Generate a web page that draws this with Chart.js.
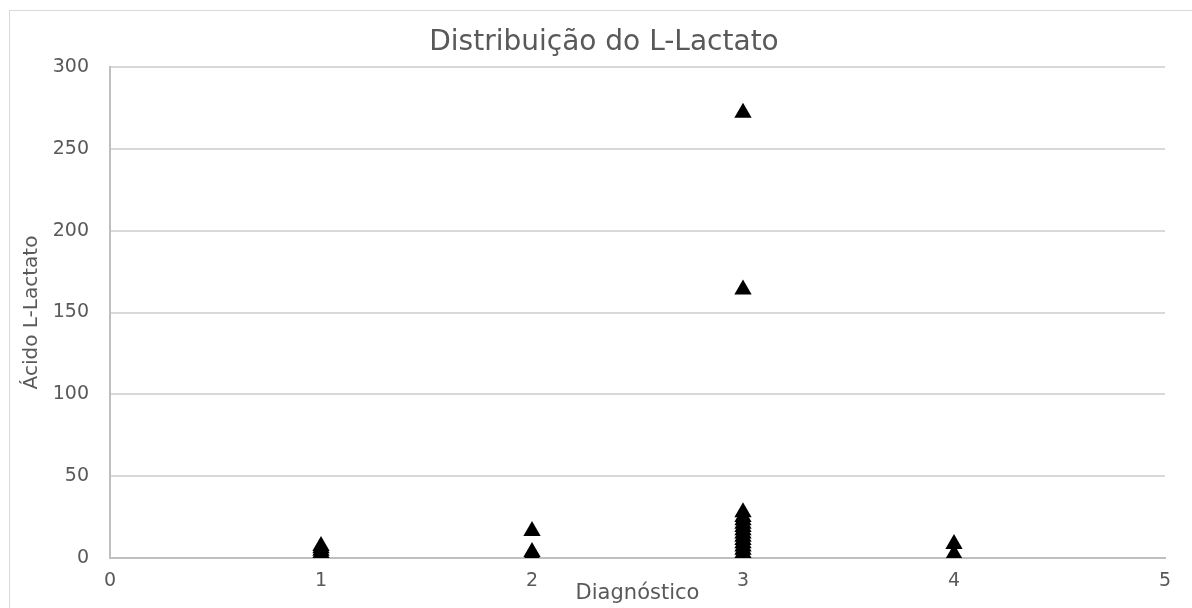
<!DOCTYPE html>
<html>
<head>
<meta charset="utf-8">
<script src="https://cdn.jsdelivr.net/npm/chart.js@4"></script>
<style>
  html, body { margin: 0; padding: 0; background: #fff; }
  #wrap { width: 1192px; height: 608px; position: relative; }
</style>
</head>
<body>
<div id="wrap"><canvas id="lactatoChart"></canvas></div>
<script>
const diagnostico1 = [0.3, 1, 2, 3, 4.5, 6, 7.3];
const diagnostico2 = [0.3, 1, 2, 3.7, 16.5];
const diagnostico3 = [0.3, 1, 2, 3, 5, 7, 9, 11, 13, 15, 17, 19, 21, 23, 25, 28, 164, 272];
const diagnostico4 = [2.5, 8.5];
const grupos = [1, 2, 3, 4];
const yTicks = [0, 50, 100, 150, 200, 250, 300];
const xTicks = [0, 1, 2, 3, 4, 5];

const todos = [diagnostico1, diagnostico2, diagnostico3, diagnostico4];
const puntos = [];
todos.forEach((serie, i) => {
  serie.forEach((v) => puntos.push({ x: grupos[i], y: v }));
});

const TEXTO = '#595959';
const FONT = "'DejaVu Sans', sans-serif";

// outer frame like the excel chart area
const marco = {
  id: 'marco',
  beforeDraw(chart) {
    const ctx = chart.ctx;
    ctx.save();
    ctx.strokeStyle = '#d9d9d9';
    ctx.lineWidth = 1;
    ctx.strokeRect(9.5, 10.5, 1200, 620);
    ctx.restore();
  },
};

new Chart(document.querySelector('#lactatoChart'), {
  type: 'scatter',
  data: {
    datasets: [
      {
        label: 'L-Lactato',
        data: puntos,
        pointStyle: 'triangle',
        pointRadius: 10,
        pointHoverRadius: 10,
        backgroundColor: '#000',
        borderColor: '#000',
        borderWidth: 0,
      },
    ],
  },
  options: {
    responsive: true,
    maintainAspectRatio: false,
    animation: false,
    layout: { padding: { left: 43, right: 27, top: 26, bottom: 0 } },
    plugins: {
      legend: { display: false },
      tooltip: { enabled: false },
      title: {
        display: true,
        text: 'Distribuição do L-Lactato',
        color: TEXTO,
        font: { family: FONT, size: 28, weight: 'normal' },
        padding: { top: 0, bottom: 7.4 },
      },
    },
    scales: {
      x: {
        type: 'linear',
        min: 0,
        max: 5,
        afterBuildTicks: (s) => { s.ticks = xTicks.map((v) => ({ value: v })); },
        afterFit: (s) => { s.height = 50; },
        grid: { display: false, drawTicks: false },
        border: { display: true, color: '#bfbfbf', width: 2 },
        ticks: { color: TEXTO, font: { family: FONT, size: 19 }, padding: 12 },
        title: {
          display: true,
          text: 'Diagnóstico',
          color: TEXTO,
          font: { family: FONT, size: 21 },
          padding: { top: 0, bottom: 2 },
        },
      },
      y: {
        min: 0,
        max: 300,
        afterBuildTicks: (s) => { s.ticks = yTicks.map((v) => ({ value: v })); },
        afterFit: (s) => { s.width = 67; },
        grid: { color: '#d9d9d9', lineWidth: 2, drawTicks: false },
        border: { display: true, color: '#bfbfbf', width: 2 },
        ticks: { color: TEXTO, font: { family: FONT, size: 19 }, padding: 21 },
        title: {
          display: true,
          text: 'Ácido L-Lactato',
          color: TEXTO,
          font: { family: FONT, size: 20 },
          padding: { top: -23, bottom: 0 },
        },
      },
    },
  },
  plugins: [marco],
});
</script>
</body>
</html>
